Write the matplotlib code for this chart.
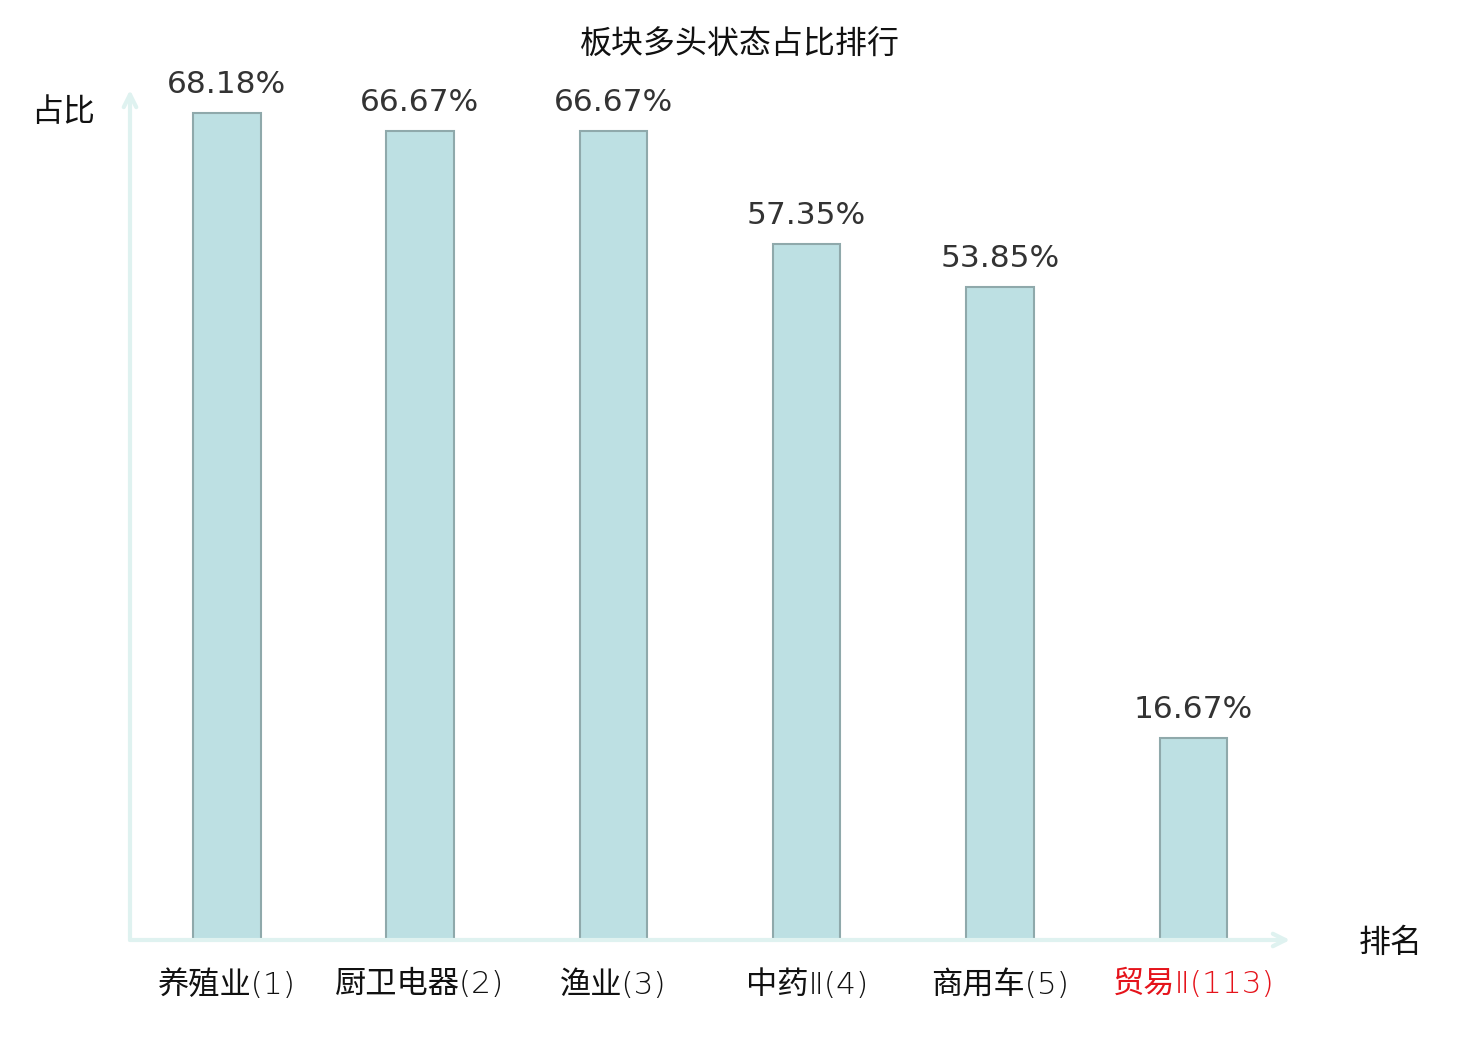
import matplotlib
matplotlib.use("Agg")
import matplotlib.pyplot as plt

plt.rcParams['font.family'] = ['Noto Sans CJK SC', 'DejaVu Sans']

categories = ["养殖业(1)", "厨卫电器(2)", "渔业(3)", "中药Ⅱ(4)", "商用车(5)", "贸易Ⅱ(113)"]
values = [68.18, 66.67, 66.67, 57.35, 53.85, 16.67]
value_labels = ["68.18%", "66.67%", "66.67%", "57.35%", "53.85%", "16.67%"]
label_colors = ["#111111", "#111111", "#111111", "#111111", "#111111", "#e5131b"]

W, H = 1480, 1040
fig = plt.figure(figsize=(W / 100, H / 100), dpi=100)
left, right, top, bottom = 130, 1290, 90, 940
ax = fig.add_axes([left / W, 1 - bottom / H, (right - left) / W, (bottom - top) / H])
ax.set_xlim(-0.5, len(categories) - 0.5)
ax.set_ylim(0, 70.07)
for s in ax.spines.values():
    s.set_visible(False)
ax.set_xticks([])
ax.set_yticks([])

x = list(range(len(categories)))
ax.bar(x, values, width=0.35, color="#bde0e3", edgecolor="#8fa9ab", linewidth=1.5, zorder=3)

for xi, v, lab in zip(x, values, value_labels):
    ax.annotate(lab, (xi, v), xytext=(0, 10), textcoords="offset points",
                ha="center", va="bottom", fontsize=22.5, color="#333333",
                fontfamily=["DejaVu Sans"])

for xi, cat, c in zip(x, categories, label_colors):
    ax.annotate(cat, (xi, 0), xytext=(0, -21), textcoords="offset points",
                ha="center", va="top", fontsize=22.5, color=c,
                fontfamily=["DejaVu Sans", "Noto Sans CJK SC"], fontweight="light",
                annotation_clip=False)

axis_color = "#dff2f0"
ax.annotate("", xy=(1.0, 0), xytext=(0, 0), xycoords="axes fraction",
            arrowprops=dict(arrowstyle="->,head_length=0.9,head_width=0.45",
                            color=axis_color, lw=3, shrinkA=0, shrinkB=0),
            annotation_clip=False)
ax.annotate("", xy=(0, 1.0), xytext=(0, 0), xycoords="axes fraction",
            arrowprops=dict(arrowstyle="->,head_length=0.9,head_width=0.45",
                            color=axis_color, lw=3, shrinkA=0, shrinkB=0),
            annotation_clip=False)

fig.text(740 / W, 1 - 45 / H, "板块多头状态占比排行", ha="center", va="center",
         fontsize=23, color="#111111")
fig.text(63 / W, 1 - 112 / H, "占比", ha="center", va="center", fontsize=23, color="#111111")
fig.text(1391 / W, 1 - 943 / H, "排名", ha="center", va="center", fontsize=23, color="#111111")

fig.savefig("out.png", dpi=100, facecolor="white")
